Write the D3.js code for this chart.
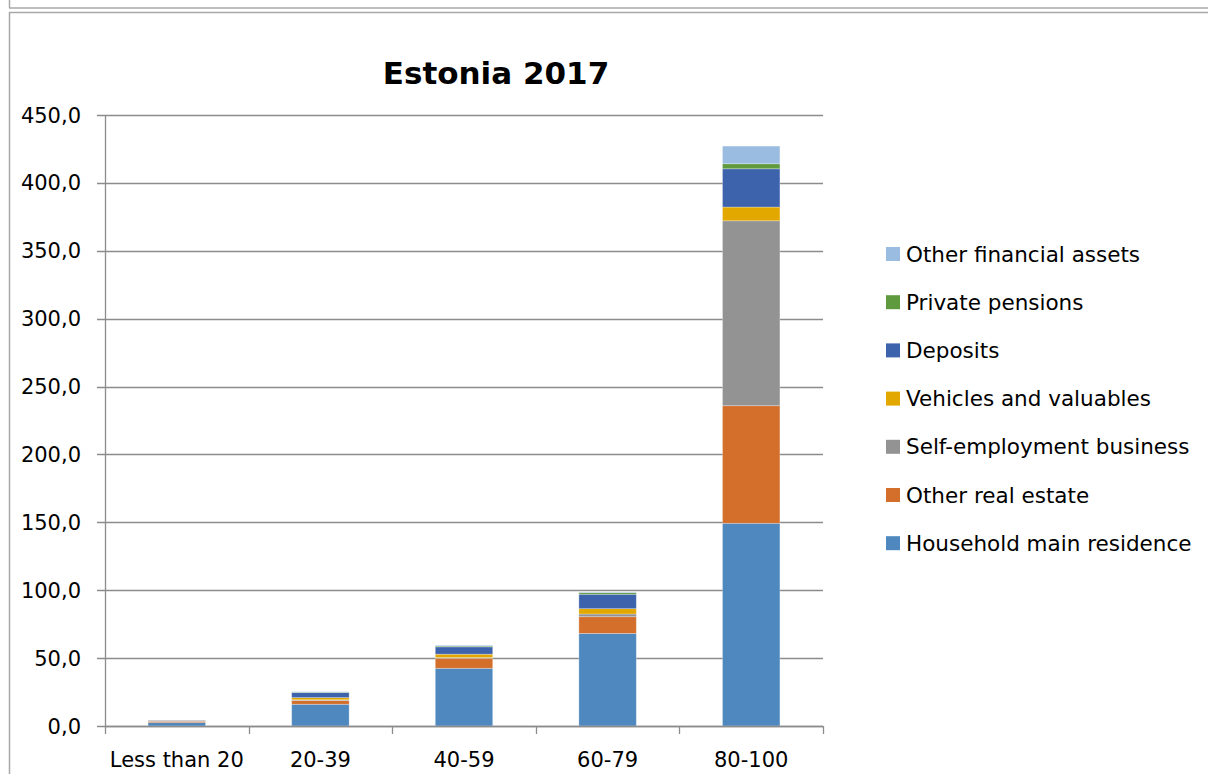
<!DOCTYPE html>
<html>
<head>
<meta charset="utf-8">
<script src="https://cdn.jsdelivr.net/npm/d3@7"></script>
<style>
  html, body { margin: 0; padding: 0; background: #fff; }
  svg { display: block; font-family: "DejaVu Sans", sans-serif; }
</style>
</head>
<body>
<svg id="chart" width="1208" height="774"></svg>
<script>
// Wealth composition by income percentile group, Estonia 2017 (thousand EUR)
const categories = ["Less than 20", "20-39", "40-59", "60-79", "80-100"];
const seriesNames = [
  "Household main residence",
  "Other real estate",
  "Self-employment business",
  "Vehicles and valuables",
  "Deposits",
  "Private pensions",
  "Other financial assets"
];
const mainResidence   = [2.5, 16.0, 42.5, 68.2, 149.3];
const otherRealEstate = [1.0, 2.7, 7.4, 12.3, 86.6];
const selfEmployment  = [0.2, 0.6, 0.5, 2.0, 136.2];
const vehicles        = [0.3, 1.6, 2.5, 3.9, 10.1];
const deposits        = [0.3, 3.7, 5.4, 10.6, 28.2];
const privatePensions = [0.0, 0.3, 0.6, 1.2, 3.7];
const otherFinancial  = [0.1, 0.4, 0.6, 0.5, 13.0];
const yTicks = [0, 50, 100, 150, 200, 250, 300, 350, 400, 450];

const seriesValues = [mainResidence, otherRealEstate, selfEmployment, vehicles,
                      deposits, privatePensions, otherFinancial];
const colors = ["#4f88bf", "#d36f2b", "#939393", "#e3a800", "#3e63ad", "#5f9a3f", "#9bbce1"];

const rows = categories.map((c, i) => {
  const r = { cat: c };
  seriesNames.forEach((s, k) => { r[s] = seriesValues[k][i]; });
  return r;
});
const stacked = d3.stack().keys(seriesNames)(rows);

const svg = d3.select("#chart");

// chart frame edges
const frame = svg.append("g").attr("stroke", "#a8a8a8").attr("stroke-width", 1.5).attr("fill", "none");
frame.append("line").attr("x1", 9.5).attr("x2", 9.5).attr("y1", 0).attr("y2", 8);
frame.append("line").attr("x1", 9).attr("x2", 1208).attr("y1", 8).attr("y2", 8);
frame.append("line").attr("x1", 9).attr("x2", 1208).attr("y1", 12.5).attr("y2", 12.5);
frame.append("line").attr("x1", 9.5).attr("x2", 9.5).attr("y1", 12).attr("y2", 774);

const plot = { left: 105, right: 823, top: 115, bottom: 726 };

const x = d3.scaleBand().domain(categories).range([plot.left, plot.right])
  .paddingInner(0.6).paddingOuter(0.3);
const xEdges = d3.scaleLinear().domain([0, categories.length]).range([plot.left, plot.right]);
const y = d3.scaleLinear().domain([0, 450]).range([plot.bottom, plot.top]);

const axisColor = "#8c8c8c";

// horizontal gridlines with left tick stubs
svg.append("g").selectAll("line").data(yTicks).join("line")
  .attr("x1", plot.left - 8).attr("x2", plot.right)
  .attr("y1", d => Math.round(y(d)) + 0.5).attr("y2", d => Math.round(y(d)) + 0.5)
  .attr("stroke", axisColor).attr("stroke-width", 1.3);

// y labels
svg.append("g").selectAll("text").data(yTicks).join("text")
  .attr("x", 81).attr("y", d => y(d) + 7.5)
  .attr("text-anchor", "end").attr("font-size", 21).attr("fill", "#000")
  .text(d => d3.format(".1f")(d).replace(".", ","));

// y axis line
svg.append("line").attr("x1", plot.left + 0.5).attr("x2", plot.left + 0.5)
  .attr("y1", plot.top).attr("y2", plot.bottom)
  .attr("stroke", axisColor).attr("stroke-width", 1.3);

// stacked bars
svg.append("g").selectAll("g").data(stacked).join("g")
  .attr("fill", (d, i) => colors[i])
  .selectAll("rect").data(d => d).join("rect")
  .attr("x", d => x(d.data.cat))
  .attr("width", x.bandwidth())
  .attr("y", d => y(d[1]))
  .attr("height", d => Math.max(0, y(d[0]) - y(d[1])))
  .attr("stroke", "#ffffff").attr("stroke-opacity", 0.35).attr("stroke-width", 0.8);

// x axis line and tick marks between categories
svg.append("line").attr("x1", plot.left).attr("x2", plot.right)
  .attr("y1", plot.bottom + 0.5).attr("y2", plot.bottom + 0.5)
  .attr("stroke", axisColor).attr("stroke-width", 1.5);
svg.append("g").selectAll("line").data(d3.range(categories.length + 1)).join("line")
  .attr("x1", d => Math.round(xEdges(d)) + 0.5).attr("x2", d => Math.round(xEdges(d)) + 0.5)
  .attr("y1", plot.bottom).attr("y2", plot.bottom + 8)
  .attr("stroke", axisColor).attr("stroke-width", 1.3);

// x labels
svg.append("g").selectAll("text").data(categories).join("text")
  .attr("x", d => x(d) + x.bandwidth() / 2).attr("y", 767)
  .attr("text-anchor", "middle").attr("font-size", 21).attr("fill", "#000")
  .text(d => d);

// title
svg.append("text").attr("x", 496).attr("y", 84)
  .attr("text-anchor", "middle").attr("font-size", 31).attr("font-weight", "bold")
  .attr("fill", "#000").text("Estonia 2017");

// legend, top entry is the last stacked series
const legendItems = seriesNames.map((s, i) => ({ name: s, color: colors[i] })).reverse();
const lg = svg.append("g").selectAll("g").data(legendItems).join("g")
  .attr("transform", (d, i) => `translate(886, ${254 + i * 48.2})`);
lg.append("rect").attr("x", 0).attr("y", -7).attr("width", 14).attr("height", 14)
  .attr("fill", d => d.color);
lg.append("text").attr("x", 20).attr("y", 7.5).attr("font-size", 21.5).attr("fill", "#000")
  .text(d => d.name);
</script>
</body>
</html>
